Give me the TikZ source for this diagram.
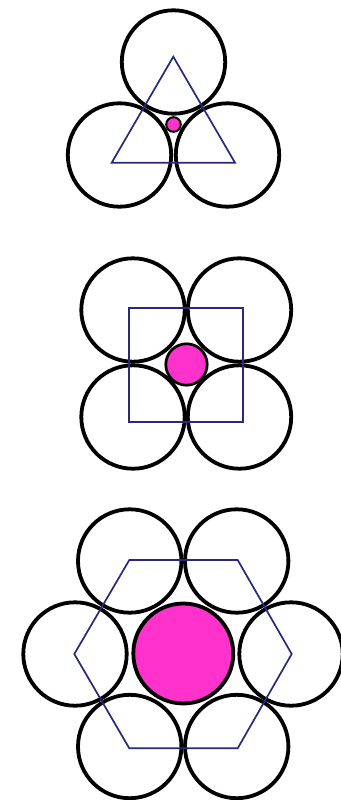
\documentclass[tikz,border=0pt]{standalone}
\definecolor{pinkfill}{RGB}{255,51,204}
\definecolor{navyline}{RGB}{40,40,125}
\tikzset{
  ring/.style={draw=black,line width=3.8pt,fill=none},
  core/.style={draw=black,fill=pinkfill},
  frame/.style={draw=navyline,line width=1.7pt,line join=miter}
}
\begin{document}
\begin{tikzpicture}[x=1pt,y=-1pt]
\useasboundingbox[fill=white] (0,0) rectangle (340,800);
% --- top: three circles
\draw[ring] (173.5,62) circle (51.7);
\draw[ring] (119.5,155) circle (51.7);
\draw[ring] (227.5,155) circle (51.7);
\draw[core,line width=2pt] (173.5,124.5) circle (7.3);
\draw[frame] (173.3,56.7) -- (111.7,162.7) -- (235,162.7) -- cycle;
% --- middle: four circles
\draw[ring] (133,310) circle (51.7);
\draw[ring] (239.5,310) circle (51.7);
\draw[ring] (133,417) circle (51.7);
\draw[ring] (239.5,417) circle (51.7);
\draw[core,line width=2.7pt] (186.5,364.5) circle (20.7);
\draw[frame] (129.3,307.7) rectangle (243.3,422.3);
% --- bottom: six circles
\draw[ring] (129.7,561) circle (51.7);
\draw[ring] (236.7,561) circle (51.7);
\draw[ring] (75,654) circle (51.7);
\draw[ring] (291,654) circle (51.7);
\draw[ring] (129.7,746.5) circle (51.7);
\draw[ring] (236.7,746.5) circle (51.7);
\draw[core,line width=3.8pt] (183.3,653.5) circle (50);
\draw[frame] (129.3,560) -- (237.7,560) -- (291.7,654) -- (237.7,748.3) -- (129.3,748.3) -- (74.3,654) -- cycle;
\end{tikzpicture}
\end{document}
